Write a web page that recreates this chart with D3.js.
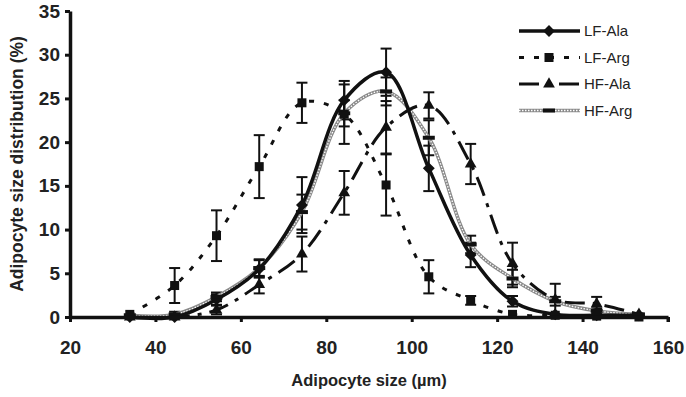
<!DOCTYPE html>
<html>
<head>
<meta charset="utf-8">
<script src="https://cdn.jsdelivr.net/npm/d3@7"></script>
<style>
  body { margin: 0; background: #fff; }
  svg { display: block; }
</style>
</head>
<body>
<svg id="drawing_region"></svg>
<script>
// adipocyte size bins (µm) as plotted
var sizes = [34, 44.5, 54.3, 64.3, 74.3, 84.2, 94, 104, 113.8, 123.6, 133.6, 143.3, 153.2];

var lfAla = [0, 0, 2.0, 5.5, 12.8, 24.8, 28.0, 17.0, 7.1, 1.8, 0.3, 0.2, 0.2];
var lfAlaErr = [0, 0, 0.6, 1.0, 3.2, 2.2, 2.7, 2.6, 1.4, 0.6, 0.2, 0.2, 0.2];

var lfArg = [0.3, 3.6, 9.3, 17.2, 24.5, 23.2, 15.1, 4.6, 1.9, 0.3, 0.2, 0.1, 0];
var lfArgErr = [0.2, 2.0, 2.9, 3.6, 2.3, 3.4, 3.5, 1.9, 0.5, 0.2, 0.1, 0.1, 0];

var hfAla = [0, 0, 0.8, 3.7, 7.2, 14.2, 21.7, 24.2, 17.5, 6.1, 2.0, 1.5, 0.3];
var hfAlaErr = [0, 0, 0.5, 1.0, 2.0, 2.5, 3.0, 1.5, 2.3, 2.4, 1.8, 0.8, 0.2];

var hfArg = [0.2, 0.3, 2.3, 5.6, 12.0, 23.3, 25.8, 20.5, 8.3, 4.4, 1.8, 0.7, 0.3];
var hfArgErr = [0.1, 0.3, 0.5, 1.0, 2.0, 1.5, 1.6, 2.0, 1.0, 1.0, 0.5, 0.3, 0.2];

var seriesNames = ['LF-Ala', 'LF-Arg', 'HF-Ala', 'HF-Arg'];
var xTicks = [20, 40, 60, 80, 100, 120, 140, 160];
var yTicks = [0, 5, 10, 15, 20, 25, 30, 35];

class DistChart {

    constructor( config ){
        this.config = {
            parent: config.parent,
            width: config.width || 686,
            height: config.height || 397,
            margin: config.margin || {top:11, right:18, bottom:80, left:70}
        };
        this.init();
    }

    init(){
        let self = this;
        let c = self.config;

        self.svg = d3.select(c.parent)
            .attr('width', c.width)
            .attr('height', c.height);

        self.chart = self.svg.append('g')
            .attr('transform', `translate(${c.margin.left}, ${c.margin.top})`);

        self.inner_width = c.width - c.margin.left - c.margin.right;
        self.inner_height = c.height - c.margin.top - c.margin.bottom;

        self.xscale = d3.scaleLinear()
            .domain([20, 160])
            .range([0, self.inner_width]);

        self.yscale = d3.scaleLinear()
            .domain([0, 35])
            .range([self.inner_height, 0]);

        self.xaxis = d3.axisBottom(self.xscale)
            .tickValues(xTicks)
            .tickSizeInner(5)
            .tickSizeOuter(0)
            .tickPadding(19);

        self.yaxis = d3.axisLeft(self.yscale)
            .tickValues(yTicks)
            .tickSizeInner(5)
            .tickSizeOuter(0)
            .tickPadding(5);
    }

    render(){
        let self = this;
        let x = self.xscale, y = self.yscale;

        let series = [
            {name: seriesNames[0], vals: lfAla, err: lfAlaErr, marker: 'diamond'},
            {name: seriesNames[1], vals: lfArg, err: lfArgErr, marker: 'square'},
            {name: seriesNames[2], vals: hfAla, err: hfAlaErr, marker: 'triangle'},
            {name: seriesNames[3], vals: hfArg, err: hfArgErr, marker: 'bar'}
        ];

        let line = d3.line()
            .x((d, i) => x(sizes[i]))
            .y(d => y(d))
            .curve(d3.curveCatmullRom.alpha(0.5));

        // error bars first
        series.forEach(s => {
            let g = self.chart.append('g');
            s.vals.forEach((v, i) => {
                if (s.err[i] < 0.25) return;
                let cx = x(sizes[i]);
                let y1 = y(v + s.err[i]), y2 = y(Math.max(0, v - s.err[i]));
                g.append('line').attr('x1', cx).attr('x2', cx).attr('y1', y1).attr('y2', y2);
                g.append('line').attr('x1', cx - 5.5).attr('x2', cx + 5.5).attr('y1', y1).attr('y2', y1);
                g.append('line').attr('x1', cx - 5.5).attr('x2', cx + 5.5).attr('y1', y2).attr('y2', y2);
            });
            g.selectAll('line').attr('stroke', '#111').attr('stroke-width', 2);
        });

        // lines
        self.drawLine(self.chart, series[3], line);
        self.drawLine(self.chart, series[2], line);
        self.drawLine(self.chart, series[1], line);
        self.drawLine(self.chart, series[0], line);

        // markers
        series.forEach(s => {
            s.vals.forEach((v, i) => {
                self.drawMarker(self.chart, s.marker, x(sizes[i]), y(v));
            });
        });

        // axes
        let xg = self.chart.append('g')
            .attr('transform', `translate(0, ${self.inner_height})`)
            .call(self.xaxis);
        let yg = self.chart.append('g')
            .call(self.yaxis);

        [xg, yg].forEach(g => {
            g.select('.domain').attr('stroke', '#111').attr('stroke-width', 3.5);
            g.selectAll('.tick line').attr('stroke', '#111').attr('stroke-width', 3);
            g.selectAll('.tick text')
                .attr('fill', '#222')
                .style('font-family', '"Liberation Sans Narrow", "Liberation Sans", Arial, sans-serif')
                .style('font-weight', 'bold')
                .style('font-size', '19px');
        });
        // end cap at 160
        xg.append('line')
            .attr('x1', self.inner_width).attr('x2', self.inner_width)
            .attr('y1', 0).attr('y2', 5)
            .attr('stroke', '#111').attr('stroke-width', 3);

        // axis titles
        self.svg.append('text')
            .attr('x', self.config.margin.left + self.inner_width / 2)
            .attr('y', 386)
            .attr('text-anchor', 'middle')
            .style('font-family', '"Liberation Sans", Arial, sans-serif')
            .style('font-weight', 'bold')
            .style('font-size', '16.5px')
            .attr('fill', '#222')
            .text('Adipocyte size (µm)');

        self.svg.append('text')
            .attr('transform', `translate(23, ${self.config.margin.top + self.inner_height / 2}) rotate(-90)`)
            .attr('text-anchor', 'middle')
            .style('font-family', '"Liberation Sans", Arial, sans-serif')
            .style('font-weight', 'bold')
            .style('font-size', '17.5px')
            .attr('fill', '#222')
            .text('Adipocyte size distribution (%)');

        // legend
        let legend = self.svg.append('g');
        series.forEach((s, i) => {
            let ly = 31 + i * 26.5;
            let seg = [{v: ly}, {v: ly}];
            let lg = legend.append('g');
            let ll = d3.line().x((d, j) => j ? 580 : 519).y(d => d.v);
            self.drawLine(lg, s, ll, seg);
            self.drawMarker(lg, s.marker, 549, ly);
            lg.append('text')
                .attr('x', 584)
                .attr('y', ly)
                .attr('dy', '0.35em')
                .style('font-family', '"Liberation Sans", Arial, sans-serif')
                .style('font-size', '15px')
                .attr('fill', '#222')
                .text(s.name);
        });
    }

    drawLine(parent, s, line, pts){
        let d = line(pts || s.vals);
        if (s.marker === 'diamond') {
            parent.append('path').attr('d', d).attr('fill', 'none')
                .attr('stroke', '#111').attr('stroke-width', 3.5);
        } else if (s.marker === 'square') {
            parent.append('path').attr('d', d).attr('fill', 'none')
                .attr('stroke', '#111').attr('stroke-width', 3)
                .attr('stroke-dasharray', '5,10');
        } else if (s.marker === 'triangle') {
            parent.append('path').attr('d', d).attr('fill', 'none')
                .attr('stroke', '#111').attr('stroke-width', 3)
                .attr('stroke-dasharray', '20,8,4,8');
        } else {
            parent.append('path').attr('d', d).attr('fill', 'none')
                .attr('stroke', '#8a8a8a').attr('stroke-width', 3.5);
            parent.append('path').attr('d', d).attr('fill', 'none')
                .attr('stroke', '#fff').attr('stroke-width', 1.3)
                .attr('stroke-dasharray', '1.5,1.5');
        }
    }

    drawMarker(parent, type, cx, cy){
        if (type === 'diamond') {
            parent.append('path')
                .attr('d', d3.symbol(d3.symbolDiamond2, 90)())
                .attr('transform', `translate(${cx},${cy})`)
                .attr('fill', '#111');
        } else if (type === 'square') {
            parent.append('rect')
                .attr('x', cx - 4.5).attr('y', cy - 4.5)
                .attr('width', 9).attr('height', 9)
                .attr('fill', '#111');
        } else if (type === 'triangle') {
            parent.append('path')
                .attr('d', d3.symbol(d3.symbolTriangle, 60)())
                .attr('transform', `translate(${cx},${cy})`)
                .attr('fill', '#111');
        } else {
            parent.append('rect')
                .attr('x', cx - 6).attr('y', cy - 2)
                .attr('width', 12).attr('height', 4)
                .attr('fill', '#111');
        }
    }
}

const chart = new DistChart({parent: '#drawing_region', width: 686, height: 397});
chart.render();
</script>
</body>
</html>
